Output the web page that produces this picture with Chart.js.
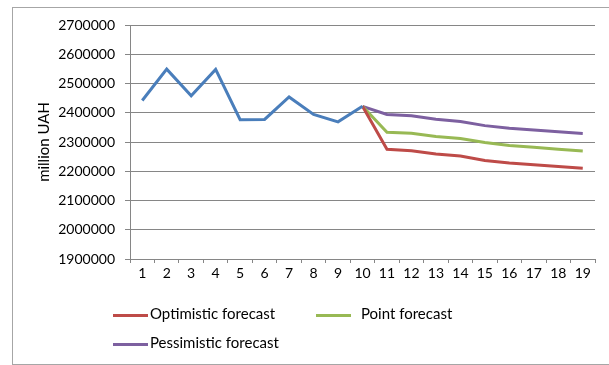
<!DOCTYPE html>
<html>
<head>
<meta charset="utf-8">
<script src="https://cdn.jsdelivr.net/npm/chart.js@4/dist/chart.umd.min.js"></script>
<style>
    html, body { margin: 0; padding: 0; background: #fff; }
    #wrap { position: relative; width: 609px; height: 365px; overflow: hidden; font-family: Lato, sans-serif; }
    #frame { position: absolute; left: 12px; top: 7px; width: 620px; height: 356px; border: 1px solid #a6a6a6; }
    canvas { position: absolute; left: 0; top: 0; }
    .legend-item { position: absolute; font-size: 15px; color: #000; line-height: 16px; white-space: nowrap; }
    .legend-item span { display: inline-block; vertical-align: middle; width: 35px; height: 3px; margin-right: 2px; }
</style>
</head>
<body>
<div id="wrap">
    <div id="frame"></div>
    <canvas id="chart" width="609" height="365"></canvas>
    <div id="legend"></div>
</div>
<script>
// Periods 1..19
const periods = ['1', '2', '3', '4', '5', '6', '7', '8', '9', '10', '11', '12', '13', '14', '15', '16', '17', '18', '19'];

// Actual values, periods 1-10
const actual = [2442000, 2549000, 2458000, 2548000, 2376000, 2377000, 2454000, 2394000, 2369000, 2422000];

// Forecasts start from the last actual value (period 10)
const optimistic = [null, null, null, null, null, null, null, null, null, 2422000,
    2275000, 2270000, 2259000, 2252000, 2237000, 2228000, 2222000, 2216000, 2210000];
const pointForecast = [null, null, null, null, null, null, null, null, null, 2422000,
    2333000, 2330000, 2319000, 2312000, 2298000, 2288000, 2282000, 2275000, 2269000];
const pessimistic = [null, null, null, null, null, null, null, null, null, 2422000,
    2394000, 2390000, 2378000, 2370000, 2356000, 2347000, 2341000, 2335000, 2329000];

const yTicks = [1900000, 2000000, 2100000, 2200000, 2300000, 2400000, 2500000, 2600000, 2700000];

function line(label, data, color) {
    return {
        label: label,
        data: data,
        borderColor: color,
        backgroundColor: color,
        borderWidth: 3,
        pointRadius: 0,
        tension: 0,
        spanGaps: false
    };
}

const ctx = document.getElementById('chart').getContext('2d');
const chart = new Chart(ctx, {
    type: 'line',
    data: {
        labels: periods,
        datasets: [
            line('Actual', actual, '#4a7ebb'),
            line('Optimistic forecast', optimistic, '#be4b48'),
            line('Point forecast', pointForecast, '#98b954'),
            line('Pessimistic forecast', pessimistic, '#7d60a0')
        ]
    },
    options: {
        responsive: false,
        animation: false,
        layout: { padding: { left: 31, top: 25, right: 14, bottom: 0 } },
        plugins: {
            legend: { display: false },
            tooltip: { enabled: false }
        },
        scales: {
            x: {
                offset: true,
                grid: { offset: true, drawOnChartArea: false, drawTicks: true, tickLength: 4, color: '#868686' },
                border: { color: '#868686' },
                ticks: { color: '#000', font: { family: 'Lato', size: 14 }, padding: 2, maxRotation: 0, autoSkip: false },
                afterFit: s => { s.height = 106; }
            },
            y: {
                min: 1900000,
                max: 2700000,
                afterBuildTicks: s => { s.ticks = yTicks.map(v => ({ value: v })); },
                grid: { color: '#868686', tickLength: 5 },
                border: { color: '#868686' },
                ticks: { color: '#000', font: { family: 'Lato', size: 14 }, padding: 10, callback: v => String(v) },
                title: { display: true, text: 'million UAH', color: '#000', font: { family: 'Lato', size: 15 }, padding: 4 },
                afterFit: s => { s.width = 99; }
            }
        }
    }
});

// Legend for the three forecast lines
const legendPos = [
    { x: 113, y: 305 },
    { x: 316, y: 305 },
    { x: 113, y: 334 }
];
const legend = document.getElementById('legend');
chart.data.datasets.slice(1).forEach((ds, i) => {
    const item = document.createElement('div');
    item.className = 'legend-item';
    item.style.left = legendPos[i].x + 'px';
    item.style.top = legendPos[i].y + 'px';
    const swatch = document.createElement('span');
    swatch.style.background = ds.borderColor;
    if (i === 1) swatch.style.marginRight = '10px';
    item.appendChild(swatch);
    item.appendChild(document.createTextNode(ds.label));
    legend.appendChild(item);
});
</script>
</body>
</html>
